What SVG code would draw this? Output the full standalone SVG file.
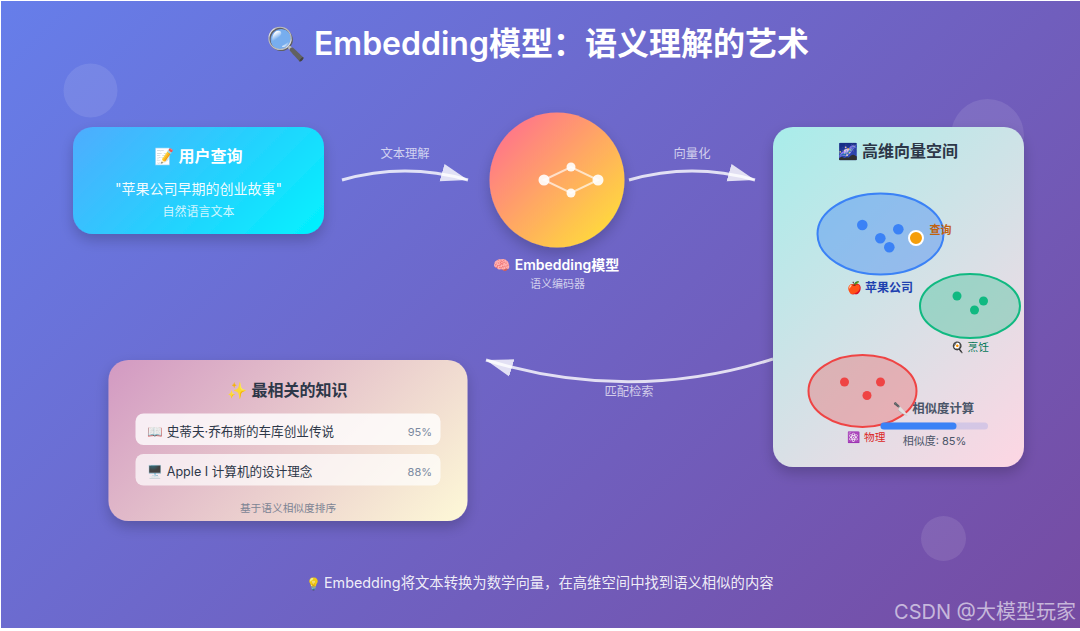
<svg xmlns="http://www.w3.org/2000/svg" width="1080" height="631" viewBox="0 0 1080 631">
<style>
text{font-family:Inter,"Noto Sans CJK SC","Noto Color Emoji",sans-serif;text-anchor:middle}
.t16{font-size:16px;font-weight:600}
.dark{fill:#2d3748}
.lab{font-size:12.3px;fill:#fff;fill-opacity:.7}
.row{font-size:12.6px;fill:#2d3748;text-anchor:start}
.pct{font-size:11px;fill:#7b8aa0;text-anchor:end}
.arrow{fill:none;stroke:#fff;stroke-opacity:.8;stroke-width:3;marker-end:url(#head)}
.deco{fill:#fff;fill-opacity:.1}
.blue{fill:#3b82f6}.green{fill:#10b981}.red{fill:#ef4444}
.net{stroke:#fff;stroke-opacity:.65;stroke-width:2}
.nd{fill:#fff;fill-opacity:.9}
</style>
<defs>
<linearGradient id="bg" gradientUnits="userSpaceOnUse" x1="112" y1="-113" x2="968" y2="743"><stop offset="0" stop-color="#667eea"/><stop offset="1" stop-color="#764ba2"/></linearGradient>
<linearGradient id="gq" gradientUnits="userSpaceOnUse" x1="109" y1="91" x2="288" y2="270"><stop offset="0" stop-color="#4facfe"/><stop offset="1" stop-color="#00f2fe"/></linearGradient>
<linearGradient id="gm" x1="0" y1="0" x2="1" y2="1"><stop offset=".12" stop-color="#ff7689"/><stop offset=".88" stop-color="#ffd93d"/></linearGradient>
<linearGradient id="gv" gradientUnits="userSpaceOnUse" x1="750" y1="150" x2="1047" y2="444"><stop offset="0" stop-color="#a8edea"/><stop offset="1" stop-color="#fed6e3"/></linearGradient>
<linearGradient id="gr" gradientUnits="userSpaceOnUse" x1="158" y1="310" x2="418" y2="571"><stop offset="0" stop-color="#d299c2"/><stop offset="1" stop-color="#fef9d7"/></linearGradient>
<filter id="sh" x="-20%" y="-20%" width="140%" height="140%"><feDropShadow dx="0" dy="6" stdDeviation="7" flood-color="#000" flood-opacity=".2"/></filter>
<marker id="head" markerUnits="userSpaceOnUse" markerWidth="30" markerHeight="22" refX="27" refY="10" orient="auto"><path d="M0 1L27 10L0 19Z" fill="#fff" fill-opacity=".8"/></marker>
</defs>
<rect width="1080" height="631" fill="#fff"/>
<rect x="1" y="1" width="1079" height="627" fill="url(#bg)"/>
<circle class="deco" cx="90.5" cy="90.5" r="27"/>
<circle class="deco" cx="987.5" cy="135.5" r="36.5"/>
<circle class="deco" cx="943.5" cy="538.5" r="22.5"/>
<text x="537.5" y="55" font-size="32" font-weight="600" fill="#fff">🔍 Embedding模型：语义理解的艺术</text>
<g id="connectors">
<path class="arrow" d="M342 180Q405 162 468 180"/>
<path class="arrow" d="M629 180Q692 162 755 180"/>
<path class="arrow" d="M773 359Q630 404 486 360"/>
<text class="lab" x="405" y="158">文本理解</text>
<text class="lab" x="692" y="158">向量化</text>
<text class="lab" x="629" y="396">匹配检索</text>
</g>
<g id="query">
<rect x="73" y="127" width="251" height="107" rx="20" fill="url(#gq)" filter="url(#sh)"/>
<text class="t16" x="198.5" y="162" fill="#fff">📝 用户查询</text>
<text x="198.5" y="194" font-size="14" fill="#fff" fill-opacity=".95">"苹果公司早期的创业故事"</text>
<text x="198.5" y="216" font-size="12" fill="#fff" fill-opacity=".8">自然语言文本</text>
</g>
<g id="model">
<circle cx="557" cy="180" r="67.5" fill="url(#gm)" filter="url(#sh)"/>
<path class="net" d="M544 180L571 167L598 180L571 193Z" fill="none"/>
<circle class="nd" cx="544" cy="180" r="5.5"/><circle class="nd" cx="571" cy="167" r="4.5"/><circle class="nd" cx="571" cy="193" r="4.5"/><circle class="nd" cx="598" cy="180" r="5.5"/>
<text x="556.5" y="270" font-size="14" font-weight="600" fill="#fff">🧠 Embedding模型</text>
<text x="557.5" y="288" font-size="11" fill="#fff" fill-opacity=".7">语义编码器</text>
</g>
<g id="vector-space">
<rect x="773" y="127" width="251" height="340" rx="20" fill="url(#gv)" filter="url(#sh)"/>
<text class="t16 dark" x="898" y="157">🌌 高维向量空间</text>
<g id="cluster-apple">
<ellipse cx="880.5" cy="234" rx="63" ry="40.5" fill="#3b82f6" fill-opacity=".4" stroke="#3b82f6" stroke-width="2"/>
<circle class="blue" cx="862.3" cy="225" r="5.3"/><circle class="blue" cx="880.3" cy="238.3" r="5.3"/><circle class="blue" cx="898.3" cy="229.3" r="5.3"/><circle class="blue" cx="889.3" cy="247.3" r="5.3"/>
<circle cx="916" cy="238" r="7" fill="#f59e0b" stroke="#fff" stroke-width="2"/>
<text x="940.5" y="234" font-size="11" font-weight="600" fill="#c2620f">查询</text>
<text x="880" y="292" font-size="12" font-weight="600" fill="#1e40af">🍎 苹果公司</text>
</g>
<g id="cluster-cooking">
<ellipse cx="970" cy="306" rx="50" ry="32" fill="#10b981" fill-opacity=".3" stroke="#10b981" stroke-width="2"/>
<circle class="green" cx="957" cy="296" r="4.5"/><circle class="green" cx="983.5" cy="301" r="4.5"/><circle class="green" cx="974.5" cy="310" r="4.5"/>
<text x="970" y="351" font-size="10.7" fill="#047857">🍳 烹饪</text>
</g>
<g id="cluster-physics">
<ellipse cx="862.5" cy="391" rx="54" ry="36" fill="#ef4444" fill-opacity=".3" stroke="#ef4444" stroke-width="2"/>
<circle class="red" cx="844.5" cy="382" r="4.5"/><circle class="red" cx="880.5" cy="382" r="4.5"/><circle class="red" cx="867" cy="395.5" r="4.5"/>
<text x="866.5" y="441" font-size="10.7" fill="#dc2626">⚛️ 物理</text>
</g>
<g id="similarity">
<text x="934" y="413" font-size="12.4" font-weight="600" fill="#4a5568">🔪 相似度计算</text>
<rect x="880.5" y="422.5" width="107.5" height="7" rx="3.5" fill="#667eea" fill-opacity=".2"/>
<rect x="880.5" y="422.5" width="76" height="7" rx="3.5" fill="#3b82f6"/>
<text x="934.5" y="445" font-size="11" fill="#4a5568">相似度: 85%</text>
</g>
</g>
<g id="results">
<rect x="108.5" y="360" width="359" height="161" rx="20" fill="url(#gr)" filter="url(#sh)"/>
<text class="t16 dark" x="287.5" y="396">✨ 最相关的知识</text>
<rect x="135.5" y="413.5" width="305" height="31.5" rx="8" fill="#fff" fill-opacity=".8"/>
<text class="row" x="147.5" y="436">📖 史蒂夫·乔布斯的车库创业传说</text>
<text class="pct" x="432" y="436">95%</text>
<rect x="135.5" y="454" width="305" height="31.5" rx="8" fill="#fff" fill-opacity=".7"/>
<text class="row" x="147.5" y="476">🖥️ Apple I 计算机的设计理念</text>
<text class="pct" x="432" y="476">88%</text>
<text x="288" y="512" font-size="10.7" fill="#7d8494">基于语义相似度排序</text>
</g>
<text y="588" font-size="14.35" fill="#fff" fill-opacity=".9" style="text-anchor:start"><tspan x="306" font-size="12">💡</tspan><tspan x="324">Embedding将文本转换为数学向量，在高维空间中找到语义相似的内容</tspan></text>
<text x="985" y="619" font-size="20" fill="#fff" fill-opacity=".6">CSDN @大模型玩家</text>
</svg>
